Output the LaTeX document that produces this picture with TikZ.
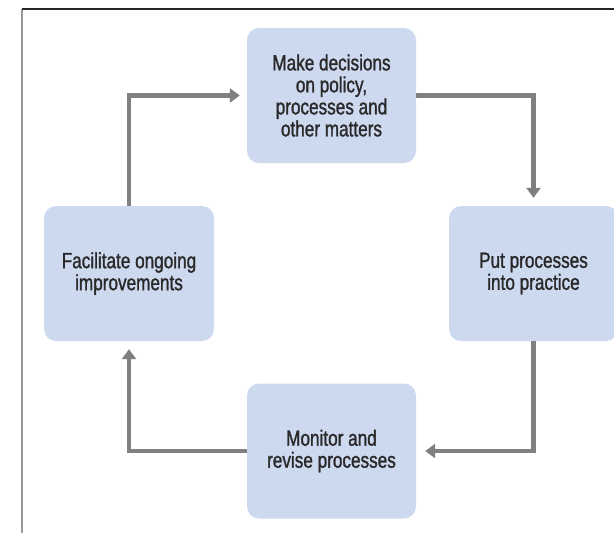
\documentclass[tikz,border=0pt]{standalone}
\usepackage{fontspec}
\setmainfont{Liberation Sans}[FakeStretch=0.78, FakeBold=1.2]
\usetikzlibrary{arrows.meta}
\definecolor{boxfill}{HTML}{CCD9EE}
\definecolor{arrowgray}{HTML}{808082}
\definecolor{txt}{HTML}{2A2829}
\tikzset{
  stepbox/.style={rectangle, rounded corners=12pt, fill=boxfill, draw=none,
    minimum width=169pt, minimum height=135pt, align=center, text=txt,
    font=\fontsize{22}{22}\selectfont},
  flow/.style={draw=arrowgray, line width=4.5pt,
    -{Triangle[length=10pt,width=14pt]}, shorten >=8pt},
}
\begin{document}
\begin{tikzpicture}[x=1pt,y=-1pt]
\clip (0,0) rectangle (614,533);
\fill[white] (0,0) rectangle (614,533);
\draw[line width=1.6pt, color=gray!80] (22,9) -- (22,533);
\draw[line width=1.2pt, color=black!85] (22,9) -- (614,9);
\node[stepbox] (top) at (331.5,95.5) {Make decisions\\on policy,\\processes and\\other matters};
\node[stepbox] (right) at (533.5,273.5) {Put processes\\into practice};
\node[stepbox] (bottom) at (331.5,451) {Monitor and\\revise processes};
\node[stepbox, minimum width=170pt] (left) at (129,273.5) {Facilitate ongoing\\improvements};
\draw[flow] (top.east) -| (right.north);
\draw[flow, shorten >=9pt] (right.south) |- (bottom.east);
\draw[flow] (bottom.west) -| (left.south);
\draw[flow, shorten >=7pt] (left.north) |- (top.west);
\end{tikzpicture}
\end{document}
